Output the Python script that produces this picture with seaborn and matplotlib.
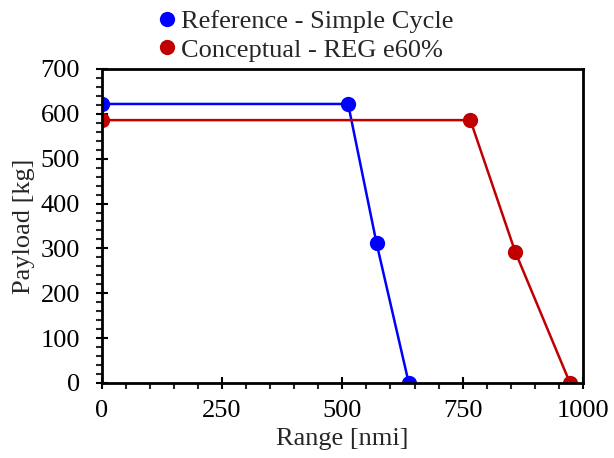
import matplotlib
matplotlib.use("Agg")
import matplotlib.pyplot as plt
from matplotlib.ticker import MultipleLocator
import seaborn as sns
import pandas as pd

series_names = ["Reference - Simple Cycle", "Conceptual - REG e60%"]
ref_range = [0, 512, 571, 638]
ref_payload = [622, 622, 312, 0]
reg_range = [0, 766, 859, 973]
reg_payload = [586, 586, 293, 0]
colors = ["#0000FF", "#C00000"]

df = pd.DataFrame({
    "Range": ref_range + reg_range,
    "Payload": ref_payload + reg_payload,
    "Series": [series_names[0]] * len(ref_range) + [series_names[1]] * len(reg_range),
})

sns.set_style("ticks")
plt.rcParams["font.family"] = ["Liberation Serif", "DejaVu Serif"]

FS = 19
fig = plt.figure(figsize=(6.14, 4.58), dpi=100)
ax = fig.add_axes([0.1656, 0.1638, 0.9495 - 0.1656, 0.8494 - 0.1638])

sns.lineplot(data=df, x="Range", y="Payload", hue="Series", palette=colors,
             hue_order=series_names, sort=False, estimator=None, units="Series",
             marker="o", markersize=11, markeredgewidth=0, linewidth=1.8,
             ax=ax, legend=False)

ax.set_xlim(0, 1000)
ax.set_ylim(0, 700)
ax.xaxis.set_major_locator(MultipleLocator(250))
ax.xaxis.set_minor_locator(MultipleLocator(50))
ax.yaxis.set_major_locator(MultipleLocator(100))
ax.yaxis.set_minor_locator(MultipleLocator(20))
ax.tick_params(which="major", direction="inout", length=9, width=1.5, labelsize=FS, colors="black")
ax.tick_params(which="minor", direction="out", length=4, width=1.5)
ax.tick_params(axis="x", pad=8)
ax.tick_params(axis="y", pad=11)
for s in ax.spines.values():
    s.set_linewidth(2)
    s.set_color("black")
    s.set_visible(True)
ax.set_xlabel("Range [nmi]", fontsize=FS, labelpad=4)
ax.set_ylabel("Payload [kg]", fontsize=FS, labelpad=4)

handles = [plt.Line2D([], [], linestyle="none", marker="o", markersize=11,
                      markeredgewidth=0, color=c) for c in colors]
fig.legend(handles, series_names, loc="upper left", bbox_to_anchor=(0.251, 0.985),
           frameon=False, fontsize=FS, handletextpad=0.1, labelspacing=0.2,
           handlelength=0.8, borderaxespad=0, borderpad=0.1)

fig.savefig("out.png", dpi=100)
